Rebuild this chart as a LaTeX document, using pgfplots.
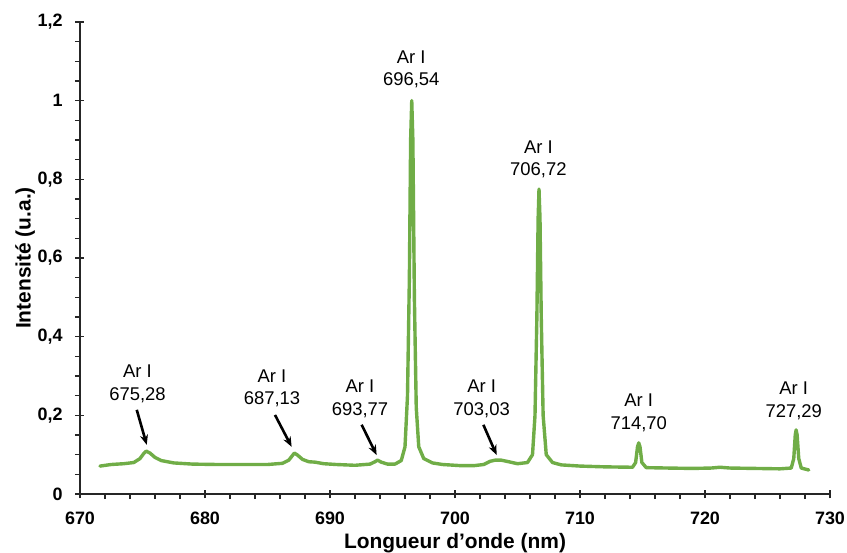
\documentclass[border=0pt]{standalone}
\usepackage{fontspec}
\setmainfont{Liberation Sans}
\usepackage{pgfplots}
\pgfplotsset{compat=1.18}
\usetikzlibrary{arrows.meta}
\definecolor{exgreen}{RGB}{112,173,71}
\begin{document}
\begin{tikzpicture}
\begin{axis}[
  scale only axis,
  width=750bp, height=472bp,
  xmin=670, xmax=730, ymin=0, ymax=1.2,
  axis lines*=left,
  axis line style={line width=1.4bp, black!85},
  xtick={670,680,...,730},
  ytick={0,0.2,...,1.2},
  minor x tick num=4,
  minor y tick num=3,
  tick align=outside,
  major tick length=9bp,
  minor tick length=5bp,
  tick style={line width=1.3bp, black!85},
  every major x tick/.append style={yshift=4.5bp},
  every major y tick/.append style={xshift=4.5bp},
  /pgf/number format/assume math mode=true,
  /pgf/number format/use comma,
  tick label style={font=\bfseries\fontsize{18}{21}\selectfont},
  xticklabel style={yshift=-5bp},
  yticklabel style={xshift=-5bp},
  xlabel={Longueur d'onde (nm)},
  ylabel={Intensité (u.a.)},
  label style={font=\bfseries\fontsize{21}{25}\selectfont},
  xlabel style={at={(axis description cs:0.5,-0.1038)}, anchor=center},
  ylabel style={at={(axis description cs:-0.0733,0.5)}, anchor=center},
  clip=false,
]
\addplot[exgreen, line width=3.4bp, line join=round, line cap=round] coordinates {
(671.6,0.071) (672.5,0.075) (673.5,0.077) (674.3,0.080) (674.8,0.090)
(675.1,0.103) (675.3,0.109) (675.6,0.104) (676.0,0.093) (676.5,0.085)
(677.5,0.079) (679,0.076) (681,0.075) (683,0.075) (685,0.075)
(686.2,0.078) (686.7,0.086) (687.0,0.098) (687.15,0.104) (687.4,0.099)
(687.8,0.088) (688.3,0.082) (688.8,0.081) (689.5,0.077) (690.5,0.075)
(692,0.073) (693.2,0.076) (693.6,0.082) (693.8,0.086) (694.1,0.081)
(694.6,0.076) (695.2,0.076) (695.7,0.085) (696.0,0.12) (696.2,0.25)
(696.35,0.55) (696.45,0.9) (696.54,1.0) (696.63,0.9) (696.75,0.5)
(696.9,0.22) (697.1,0.12) (697.5,0.09) (698.2,0.079) (699,0.075)
(700.5,0.072) (701.5,0.072) (702.3,0.075) (702.8,0.083) (703.2,0.086)
(703.7,0.086) (704.3,0.082) (705.0,0.077) (705.8,0.08) (706.2,0.1)
(706.4,0.2) (706.55,0.45) (706.65,0.7) (706.72,0.775) (706.8,0.7)
(706.9,0.45) (707.05,0.2) (707.3,0.1) (707.8,0.08) (708.5,0.074)
(710,0.071) (712,0.069) (714.2,0.068) (714.45,0.08) (714.6,0.12)
(714.7,0.13) (714.8,0.12) (714.95,0.08) (715.3,0.067) (717,0.066)
(719,0.065) (720.5,0.066) (721.2,0.068) (722,0.066) (724,0.065)
(726,0.064) (726.9,0.066) (727.1,0.09) (727.22,0.15) (727.29,0.163)
(727.37,0.15) (727.5,0.09) (727.7,0.066) (728.3,0.061)
};
\begin{scope}[every node/.style={align=center, font=\fontsize{18.5}{22.5}\selectfont}]
\node at (axis cs:674.6,0.28) {Ar I\\675,28};
\node at (axis cs:685.36,0.268) {Ar I\\687,13};
\node at (axis cs:692.4,0.242) {Ar I\\693,77};
\node at (axis cs:696.5,1.079) {Ar I\\696,54};
\node at (axis cs:702.13,0.242) {Ar I\\703,03};
\node at (axis cs:706.67,0.851) {Ar I\\706,72};
\node at (axis cs:714.7,0.206) {Ar I\\714,70};
\node at (axis cs:727.1,0.237) {Ar I\\727,29};
\end{scope}
\begin{scope}[line width=2.6bp, -{Stealth[length=10bp,width=8bp]}]
\draw (axis cs:674.54,0.214) -- (axis cs:675.34,0.125);
\draw (axis cs:685.6,0.201) -- (axis cs:686.93,0.120);
\draw (axis cs:692.53,0.176) -- (axis cs:693.73,0.099);
\draw (axis cs:702.27,0.176) -- (axis cs:703.33,0.099);
\end{scope}
\end{axis}
\pgfresetboundingbox
\path[use as bounding box] (-80bp,-59bp) rectangle (767bp,494bp);
\end{tikzpicture}
\end{document}
